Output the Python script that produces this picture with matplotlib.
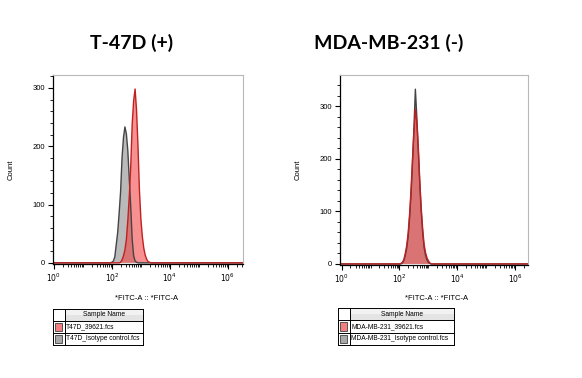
import numpy as np
import matplotlib
matplotlib.use("Agg")
import matplotlib.pyplot as plt
from matplotlib.patches import Rectangle
from matplotlib.ticker import FixedLocator, NullFormatter

# =============================================================================
# DADOS - contagens por canal, eixo x em log10(FITC-A)
# =============================================================================
bins_log = [0.00, 1.95, 2.00, 2.05, 2.10, 2.15, 2.20, 2.25, 2.30, 2.35,
            2.40, 2.45, 2.50, 2.55, 2.60, 2.65, 2.70, 2.75, 2.80, 2.85,
            2.90, 2.95, 3.00, 3.05, 3.10, 3.15, 3.20, 3.25, 3.30, 3.35, 6.60]

t47d_sample = [0, 0, 0, 0, 0, 0, 0, 0, 1, 5,
               12, 22, 40, 73, 114, 166, 238, 278, 298, 262,
               200, 124, 75, 45, 25, 13, 6, 2, 1, 0, 0]
t47d_isotype = [0, 0, 1, 3, 10, 31, 52, 85, 122, 180,
                215, 233, 221, 192, 143, 96, 40, 12, 3, 1,
                0, 0, 0, 0, 0, 0, 0, 0, 0, 0, 0]

mda_sample = [0, 0, 0, 1, 3, 8, 20, 35, 59, 95,
              141, 199, 252, 295, 270, 224, 162, 109, 69, 38,
              22, 12, 6, 2, 0, 0, 0, 0, 0, 0, 0]
mda_isotype = [0, 0, 0, 0, 2, 6, 16, 30, 52, 88,
               133, 192, 258, 333, 280, 218, 155, 102, 62, 32,
               17, 8, 3, 1, 0, 0, 0, 0, 0, 0, 0]

painel_cfg = [
    {
        "title": "T-47D (+)",
        "sample": t47d_sample,
        "isotype": t47d_isotype,
        "names": ["T47D_39621.fcs", "T47D_Isotype control.fcs"],
        "ax_rect": [53 / 582, 114 / 378, 190 / 582, 189 / 378],
        "xlim": (10 ** -0.03, 10 ** 6.52),
        "ylim": (-2, 322),
        "title_x": 132 / 582,
        "table_rect": [53 / 582, 33 / 378, 90 / 582, 36 / 378],
        "xlabel_x": 147 / 582,
    },
    {
        "title": "MDA-MB-231 (-)",
        "sample": mda_sample,
        "isotype": mda_isotype,
        "names": ["MDA-MB-231_39621.fcs", "MDA-MB-231_Isotype control.fcs"],
        "ax_rect": [340 / 582, 113 / 378, 188 / 582, 190 / 378],
        "xlim": (10 ** -0.06, 10 ** 6.45),
        "ylim": (-2, 360),
        "title_x": 389 / 582,
        "table_rect": [338 / 582, 33 / 378, 116 / 582, 37 / 378],
        "xlabel_x": 437 / 582,
    },
]

RED_FACE = (0.95, 0.25, 0.25, 0.58)
RED_EDGE = "#c02020"
GRAY_FACE = (0.55, 0.55, 0.55, 0.6)
GRAY_EDGE = "#444444"

plt.rcParams["font.family"] = ["Liberation Sans", "DejaVu Sans"]

fig = plt.figure(figsize=(5.82, 3.78), dpi=100)

for cfg in painel_cfg:
    ax = fig.add_axes(cfg["ax_rect"])
    x = 10 ** np.array(bins_log)

    ax.fill_between(x, cfg["isotype"], 0, facecolor=GRAY_FACE, edgecolor="none")
    ax.plot(x, cfg["isotype"], color=GRAY_EDGE, lw=1.0)
    ax.fill_between(x, cfg["sample"], 0, facecolor=RED_FACE, edgecolor="none")
    ax.plot(x, cfg["sample"], color=RED_EDGE, lw=1.0)

    ax.set_xscale("log")
    ax.set_xlim(*cfg["xlim"])
    ax.set_ylim(*cfg["ylim"])

    ax.set_xticks([1, 1e2, 1e4, 1e6])
    ax.set_xticklabels([r"$10^{0}$", r"$10^{2}$", r"$10^{4}$", r"$10^{6}$"])
    minors = [m * 10 ** d for d in range(0, 7) for m in range(2, 10)] + [10, 1e3, 1e5]
    ax.xaxis.set_minor_locator(FixedLocator(minors))
    ax.xaxis.set_minor_formatter(NullFormatter())

    ax.set_yticks([0, 100, 200, 300])
    ax.yaxis.set_minor_locator(FixedLocator([v for v in range(20, int(cfg["ylim"][1]), 20) if v % 100]))

    ax.tick_params(axis="both", which="major", direction="out", length=3.5,
                   width=0.8, labelsize=5.5, pad=2, color="black")
    ax.tick_params(axis="both", which="minor", direction="out", length=2,
                   width=0.6, color="black")

    for side in ["top", "right"]:
        ax.spines[side].set_color("#b8b8b8")
        ax.spines[side].set_linewidth(0.8)
    for side in ["left", "bottom"]:
        ax.spines[side].set_color("black")
        ax.spines[side].set_linewidth(0.9)

    ax.set_ylabel("Count", fontsize=5.5, labelpad=13)
    fig.text(cfg["xlabel_x"], 1 - 298 / 378, "*FITC-A :: *FITC-A", fontsize=5.5,
             ha="center", va="center")

    fig.text(cfg["title_x"], 1 - 43 / 378, cfg["title"], fontsize=14,
             fontweight="bold", family=["Lato", "DejaVu Sans"], ha="center", va="center")

    # --- tabela de legenda ---
    tab = fig.add_axes(cfg["table_rect"])
    tab.set_xlim(0, 1)
    tab.set_ylim(0, 3)
    tab.axis("off")
    c1 = 11.5 / (cfg["table_rect"][2] * 582)
    # fundo do cabeçalho
    tab.add_patch(Rectangle((c1, 2), 1 - c1, 1, facecolor="#e4e4e4", edgecolor="none"))
    tab.add_patch(Rectangle((c1, 2.5), 1 - c1, 0.5, facecolor="#f2f2f2", edgecolor="none"))
    # linhas da grade
    for yy in [0, 1, 2, 3]:
        tab.plot([0, 1], [yy, yy], color="black", lw=0.7, clip_on=False)
    tab.plot([0, 0], [0, 3], color="black", lw=0.7, clip_on=False)
    tab.plot([c1, c1], [0, 3], color="black", lw=0.7, clip_on=False)
    tab.plot([1, 1], [0, 3], color="black", lw=0.7, clip_on=False)
    tab.text((c1 + 1) / 2, 2.5, "Sample Name", fontsize=4.8, ha="center", va="center")
    sw_w = 7 / (cfg["table_rect"][2] * 582)
    for i, (nm, fc) in enumerate(zip(cfg["names"], ["#f28080", "#a8a8a8"])):
        yc = 1.5 - i
        tab.add_patch(Rectangle((c1 / 2 - sw_w / 2, yc - 0.33), sw_w, 0.66,
                                facecolor=fc, edgecolor="#404040", lw=0.6))
        tab.text(c1 + 0.015, yc, nm, fontsize=4.8, ha="left", va="center", clip_on=True)

fig.savefig("out.png", dpi=100)
plt.close()
